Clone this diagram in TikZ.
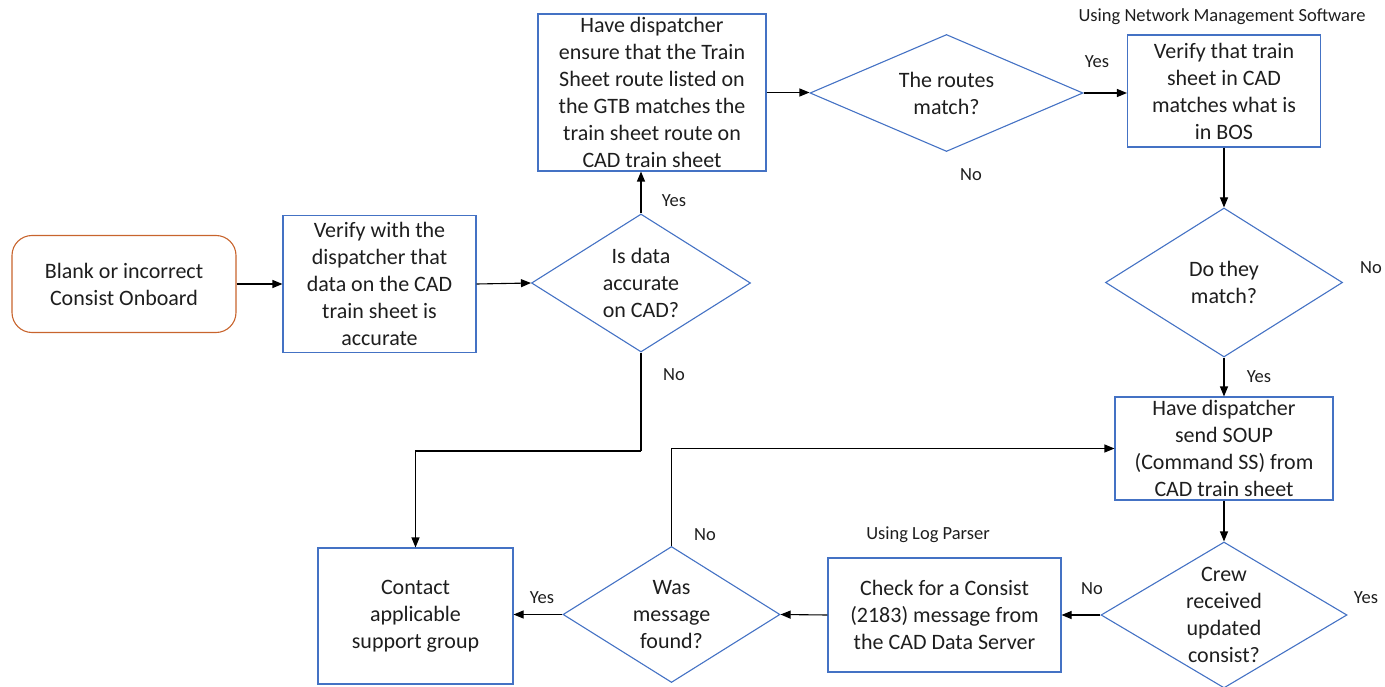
\documentclass[tikz,border=0pt]{standalone}
\usepackage{fontspec}
\setmainfont{Carlito}
\usetikzlibrary{shapes.geometric,arrows.meta}
\definecolor{boxblue}{RGB}{68,114,196}
\definecolor{startorange}{RGB}{200,100,45}
\definecolor{txt}{RGB}{30,30,30}
\begin{document}
\begin{tikzpicture}[x=1pt,y=-1pt,
  every node/.style={text=txt},
  body/.style={font=\fontsize{22}{27}\selectfont, align=center, inner sep=0pt},
  proc/.style={body, draw=boxblue, line width=1.1pt, rectangle},
  startbox/.style={body, draw=startorange, line width=1.1pt, rounded corners=20pt},
  decide/.style={body, draw=boxblue, line width=1.1pt, diamond},
  lbl/.style={font=\fontsize{18.5}{21}\selectfont, inner sep=0pt},
  arr/.style={draw=black, line width=1.1pt, -{Triangle[length=10pt,width=8pt]}},
  seg/.style={draw=black, line width=1.1pt}]
\useasboundingbox (0,0) rectangle (1385,687);

% process steps
\node[startbox, minimum width=224pt, minimum height=97pt] (start) at (124,284)
  {Blank or incorrect\\Consist Onboard};
\node[proc, minimum width=193pt, minimum height=137pt] (verify) at (379.5,284)
  {Verify with the\\dispatcher that\\data on the CAD\\train sheet is\\accurate};
\node[proc, minimum width=228pt, minimum height=157pt] (ensure) at (652,92.5)
  {Have dispatcher\\ensure that the Train\\Sheet route listed on\\the GTB matches the\\train sheet route on\\CAD train sheet};
\node[proc, minimum width=193pt, minimum height=112pt] (bos) at (1224,91)
  {Verify that train\\sheet in CAD\\matches what is\\in BOS};
\node[proc, minimum width=218pt, minimum height=103pt] (soup) at (1224,448.5)
  {Have dispatcher\\send SOUP\\(Command SS) from\\CAD train sheet};
\node[proc, minimum width=233pt, minimum height=114pt] (check) at (944.5,615)
  {Check for a Consist\\(2183) message from\\the CAD Data Server};
\node[proc, minimum width=195pt, minimum height=136pt] (contact) at (415.5,616)
  {Contact\\applicable\\support group};

% decisions
\node[decide, minimum width=219pt, minimum height=138pt, shape aspect=1.59] (isdata) at (641,283)
  {Is data\\accurate\\on CAD?};
\node[decide, minimum width=273pt, minimum height=117pt, shape aspect=2.33] (routes) at (946.5,93)
  {The routes\\match?};
\node[decide, minimum width=237pt, minimum height=149pt, shape aspect=1.59] (domatch) at (1224,282.5)
  {Do they\\match?};
\node[decide, minimum width=246pt, minimum height=146pt, shape aspect=1.68] (crew) at (1224,615)
  {Crew\\received\\updated\\consist?};
\node[decide, minimum width=217pt, minimum height=136pt, shape aspect=1.6] (found) at (671.5,614.5)
  {Was\\message\\found?};

% connectors
\coordinate (nobend) at (641,451);
\draw[arr] (start.east) -- (start.east -| verify.west);
\draw[arr] (verify.east) -- (isdata.west);
\draw[arr] (isdata.north) -- (isdata.north |- ensure.south);
\draw[arr] (ensure.east) -- (ensure.east -| routes.west);
\draw[arr] (routes.east) -- (routes.east -| bos.west);
\draw[arr] (bos.south) -- (domatch.north);
\draw[arr] (domatch.south) -- (soup.north);
\draw[arr] (soup.south) -- (crew.north);
\draw[arr] (crew.west) -- (crew.west -| check.east);
\draw[arr] (check.west) -- (found.east);
\draw[arr] (found.west) -- (found.west -| contact.east);
\draw[arr] (found.north) |- (soup.west);
\draw[seg] (isdata.south) -- (nobend);
\draw[arr] (nobend) -| (contact.north);

% branch labels and notes
\node[lbl] (y1) at (674,201) {Yes};
\node[lbl] (n1) at (674,375) {No};
\node[lbl] (n2) at (971,175) {No};
\node[lbl] (y2) at (1097,62) {Yes};
\node[lbl] (note1) at (1222,17) {Using Network Management Software};
\node[lbl] (n3) at (1371,268) {No};
\node[lbl] (y3) at (1259,377) {Yes};
\node[lbl] (y4) at (1366,598) {Yes};
\node[lbl] (n4) at (1092,589) {No};
\node[lbl] (note2) at (928,535) {Using Log Parser};
\node[lbl] (n5) at (705,535) {No};
\node[lbl] (y5) at (542,598) {Yes};
\end{tikzpicture}
\end{document}
